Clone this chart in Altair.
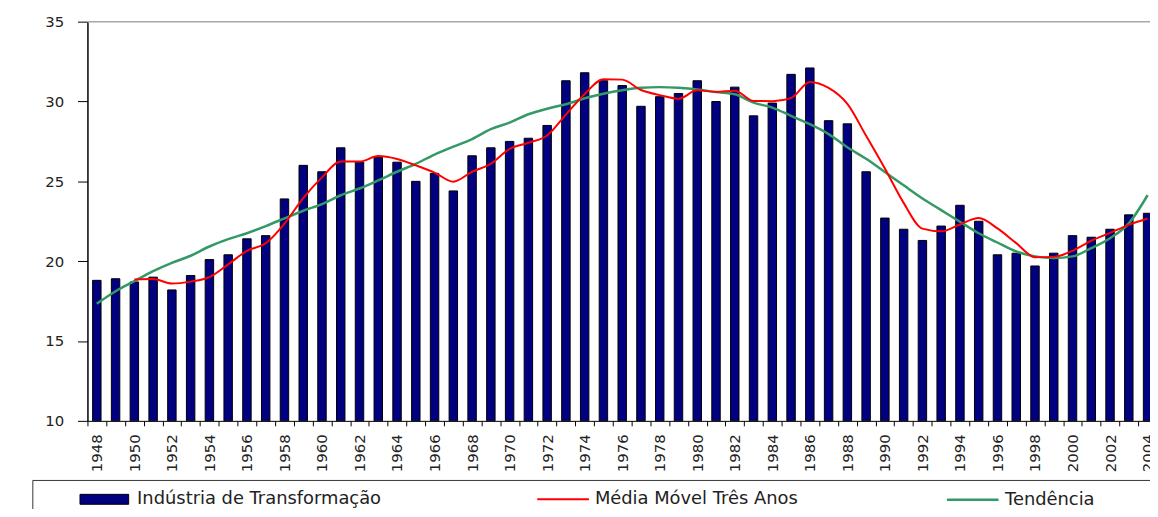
import altair as alt
import pandas as pd

years = list(range(1948, 2005))

industria = [18.8, 18.9, 18.7, 19.0, 18.2, 19.1, 20.1, 20.4, 21.4, 21.6,
             23.9, 26.0, 25.6, 27.1, 26.2, 26.5, 26.2, 25.0, 25.5, 24.4,
             26.6, 27.1, 27.5, 27.7, 28.5, 31.3, 31.8, 31.3, 31.0, 29.7,
             30.3, 30.5, 31.3, 30.0, 30.9, 29.1, 29.9, 31.7, 32.1, 28.8,
             28.6, 25.6, 22.7, 22.0, 21.3, 22.2, 23.5, 22.5, 20.4, 20.5,
             19.7, 20.5, 21.6, 21.5, 22.0, 22.9, 23.0]

media_movel = [None, None, 18.85, 18.88, 18.6, 18.72, 19.0, 19.8, 20.65, 21.12,
               22.35, 23.95, 25.25, 26.24, 26.24, 26.58, 26.4, 26.0, 25.55, 24.98,
               25.6, 26.1, 27.03, 27.42, 27.87, 29.18, 30.47, 31.4, 31.37, 30.72,
               30.4, 30.17, 30.7, 30.6, 30.68, 30.03, 30.02, 30.21, 31.22, 30.85,
               29.85, 27.85, 25.8, 23.65, 22.04, 21.87, 22.3, 22.7, 22.05, 21.13,
               20.25, 20.27, 20.65, 21.28, 21.77, 22.27, 22.67]

tendencia = [17.34, 18.12, 18.75, 19.37, 19.89, 20.34, 20.92, 21.38, 21.75, 22.2,
             22.68, 23.16, 23.57, 24.13, 24.55, 25.06, 25.6, 26.1, 26.68, 27.17,
             27.65, 28.27, 28.68, 29.2, 29.55, 29.83, 30.2, 30.49, 30.71, 30.86,
             30.9, 30.86, 30.76, 30.59, 30.45, 29.93, 29.62, 29.1, 28.58, 27.96,
             27.13, 26.41, 25.58, 24.75, 23.93, 23.2, 22.47, 21.75, 21.17, 20.61,
             20.3, 20.2, 20.3, 20.82, 21.44, 22.37, 24.13]

nome_barras = "Indústria de Transformação"
nome_media = "Média Móvel Três Anos"
nome_tend = "Tendência"

bar_df = pd.DataFrame({"ano": years, "valor": industria, "serie": nome_barras})
ma_df = pd.DataFrame({"ano": years, "valor": media_movel, "serie": nome_media}).dropna()
tr_df = pd.DataFrame({"ano": years, "valor": tendencia, "serie": nome_tend})

FONT = "DejaVu Sans"
TXT = "#222222"

xscale = alt.Scale(domain=years, paddingInner=0, paddingOuter=0, range=[0, 1077])
yscale = alt.Scale(domain=[10, 35], nice=False, zero=False)

xaxis = alt.Axis(title=None, labelAngle=270, labelFont=FONT, labelFontSize=15,
                 labelColor=TXT, labelExpr="datum.value % 2 == 0 ? datum.label : ''",
                 tickBand="extent", tickSize=5, tickColor="black", domainColor="black",
                 labelPadding=8, grid=False, labelOverlap=False)
yaxis = alt.Axis(title=None, values=[10, 15, 20, 25, 30, 35], tickSize=10,
                 labelPadding=14, labelFont=FONT, labelFontSize=15, labelColor=TXT,
                 domainColor="black", domainWidth=1.5, tickColor="black", grid=False)

bars = alt.Chart(bar_df).mark_bar(size=8.5, stroke="black", strokeWidth=1).encode(
    x=alt.X("ano:O", scale=xscale, axis=xaxis),
    y=alt.Y("valor:Q", scale=yscale, axis=yaxis),
    y2=alt.datum(10),
    fill=alt.Fill("serie:N",
                  scale=alt.Scale(domain=[nome_barras], range=["#000080"]),
                  legend=alt.Legend(title=None, orient="none", legendX=-8, legendY=456,
                                    symbolType="M-1,-0.204H1V0.204H-1Z", symbolSize=2401,
                                    symbolStrokeColor="black", symbolStrokeWidth=1,
                                    labelFont=FONT, labelFontSize=18, labelColor=TXT,
                                    labelOffset=8, labelLimit=500, padding=0)),
)

ma = alt.Chart(ma_df).mark_line(strokeWidth=2, interpolate="monotone").encode(
    x=alt.X("ano:O", scale=xscale, axis=xaxis),
    y=alt.Y("valor:Q", scale=yscale, axis=yaxis),
    stroke=alt.Stroke("serie:N",
                      scale=alt.Scale(domain=[nome_media], range=["#ff0000"]),
                      legend=alt.Legend(title=None, orient="none", legendX=452, legendY=454,
                                        symbolType="stroke", symbolSize=2704,
                                        symbolStrokeWidth=2,
                                        labelFont=FONT, labelFontSize=18, labelColor=TXT,
                                        labelOffset=5, labelLimit=500, padding=0)),
)

tr = alt.Chart(tr_df).mark_line(strokeWidth=2.5, interpolate="monotone").encode(
    x=alt.X("ano:O", scale=xscale, axis=xaxis),
    y=alt.Y("valor:Q", scale=yscale, axis=yaxis),
    color=alt.Color("serie:N",
                    scale=alt.Scale(domain=[nome_tend], range=["#339966"]),
                    legend=alt.Legend(title=None, orient="none", legendX=864, legendY=454,
                                      symbolType="stroke", symbolSize=2704,
                                      symbolStrokeWidth=2.5,
                                      labelFont=FONT, labelFontSize=18, labelColor=TXT,
                                      labelOffset=5, labelLimit=500, padding=0)),
)

top_rule = alt.Chart(pd.DataFrame({"y": [35]})).mark_rule(
    color="#a8a8a8", strokeWidth=1.5).encode(y=alt.Y("y:Q", scale=yscale, axis=yaxis))

box = alt.Chart(pd.DataFrame({"a": [0]})).mark_rect(
    fill=None, stroke="#333333", strokeWidth=1).encode(
    x=alt.value(-55), x2=alt.value(1120), y=alt.value(462), y2=alt.value(540))

chart = alt.layer(box, top_rule, bars, tr, ma).properties(
    width=1070, height=402,
    autosize=alt.AutoSizeParams(type="none"),
    padding={"left": 80, "top": 12, "right": 0, "bottom": 87},
).configure_view(stroke=None)

chart.save("out.html", embed_options={"renderer": "svg", "actions": False})
